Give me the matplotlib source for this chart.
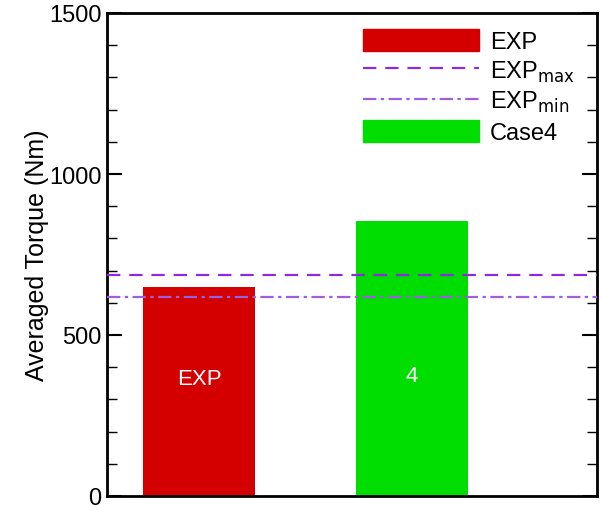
import matplotlib
matplotlib.use('Agg')
import matplotlib.pyplot as plt
from matplotlib.ticker import MultipleLocator
from matplotlib.lines import Line2D
from matplotlib.patches import Patch

plt.rcParams['font.family'] = ['Liberation Sans', 'DejaVu Sans']

# data
cases = ['EXP', '4']
torque = [649, 854]
bar_colors = ['#d40000', '#00dd00']
exp_max = 686
exp_min = 619
legend_labels = ['EXP', 'EXP$_{\\mathrm{max}}$', 'EXP$_{\\mathrm{min}}$', 'Case4']

fig = plt.figure(figsize=(6.02, 5.06), dpi=100)
ax = fig.add_axes([107 / 602, 9 / 506, 490 / 602, 483 / 506])

pos = [1, 2]
ax.bar(pos, torque, width=0.526, color=bar_colors, zorder=2)
ax.axhline(exp_max, color='#8a2be2', linestyle=(0, (6, 4)), linewidth=1.6, zorder=3)
ax.axhline(exp_min, color='#9b5fe0', linestyle=(0, (6, 2, 1.5, 2)), linewidth=1.6, zorder=3)

for p, lab in zip(pos, cases):
    ax.text(p, 364 if lab == 'EXP' else 375, lab, color='white', ha='center', va='center', fontsize=16)

ax.set_xlim(0.568, 2.869)
ax.set_ylim(0, 1500)
ax.set_xticks([])
ax.yaxis.set_major_locator(MultipleLocator(500))
ax.yaxis.set_minor_locator(MultipleLocator(100))
ax.tick_params(axis='y', which='major', direction='in', length=11, width=1.5, labelsize=17, right=True, pad=4)
ax.tick_params(axis='y', which='minor', direction='in', length=7, width=1, right=True)
for s in ax.spines.values():
    s.set_linewidth(2)
ax.set_ylabel('Averaged Torque (Nm)', fontsize=18, labelpad=0)

handles = [Patch(color=bar_colors[0]),
           Line2D([0], [0], color='#8a2be2', linestyle=(0, (6, 4)), linewidth=1.6),
           Line2D([0], [0], color='#9b5fe0', linestyle=(0, (6, 2, 1.5, 2)), linewidth=1.6),
           Patch(color=bar_colors[1])]
ax.legend(handles, legend_labels, loc='upper left', frameon=False, fontsize=17,
          handlelength=4.9, handleheight=1.05, labelspacing=0.24, handletextpad=0.45,
          borderaxespad=0, bbox_to_anchor=(0.504, 0.987))

fig.savefig('out.png', dpi=100)
